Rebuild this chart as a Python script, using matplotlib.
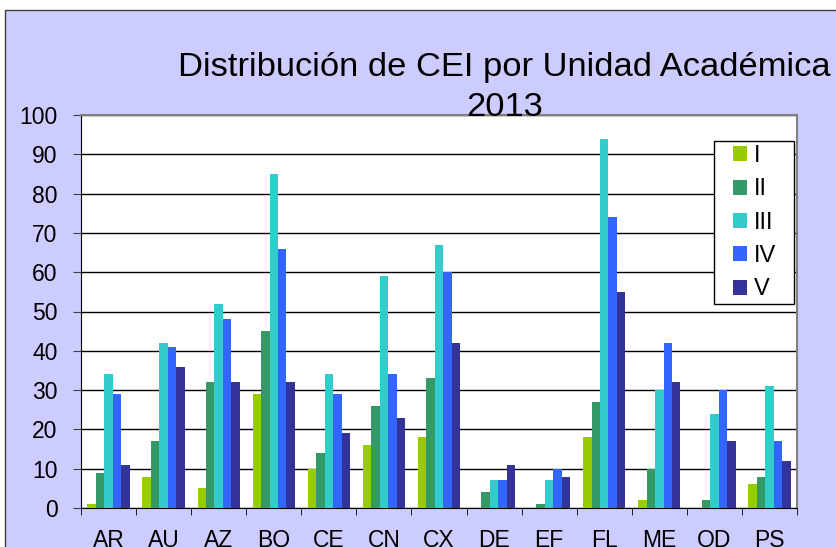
import numpy as np
import matplotlib
matplotlib.use("Agg")
import matplotlib.pyplot as plt
from matplotlib.patches import Rectangle

plt.rcParams["font.family"] = ["Liberation Sans", "DejaVu Sans"]

units = ["AR", "AU", "AZ", "BQ", "CE", "CN", "CX", "DE", "EF", "FL", "ME", "OD", "PS"]
series_names = ["I", "II", "III", "IV", "V"]
vals_I   = [1, 8, 5, 29, 10, 16, 18, 0, 0, 18, 2, 0, 6]
vals_II  = [9, 17, 32, 45, 14, 26, 33, 4, 1, 27, 10, 2, 8]
vals_III = [34, 42, 52, 85, 34, 59, 67, 7, 7, 94, 30, 24, 31]
vals_IV  = [29, 41, 48, 66, 29, 34, 60, 7, 10, 74, 42, 30, 17]
vals_V   = [11, 36, 32, 32, 19, 23, 42, 11, 8, 55, 32, 17, 12]
colors = ["#99CC00", "#339966", "#33CCCC", "#3366FF", "#333399"]

W, H = 836, 547
fig = plt.figure(figsize=(W / 100, H / 100), dpi=100, facecolor="white")

# lavender chart area with thin border
fig.patches.append(Rectangle((5 / W, -0.1), 1.2, 1 - 10 / H + 0.1,
                             transform=fig.transFigure, facecolor="#CCCCFF",
                             edgecolor="#404040", lw=1, zorder=-5))

ax = fig.add_axes([81 / W, 1 - 508 / H, (797 - 81) / W, (508 - 115) / H])
ax.set_facecolor("white")

x = np.arange(len(units))
w = 1 / 6.5
all_vals = [vals_I, vals_II, vals_III, vals_IV, vals_V]
for i, (name, v, c) in enumerate(zip(series_names, all_vals, colors)):
    ax.bar(x + (i - 2) * w, v, w, color=c, label=name, zorder=3)

ax.set_xlim(-0.5, len(units) - 0.5)
ax.set_ylim(0, 100)
ax.set_yticks(range(0, 101, 10))
ax.yaxis.grid(True, color="black", lw=1)
ax.set_axisbelow(True)

ax.set_xticks(x)
ax.set_xticklabels(units)
ax.set_xticks(np.arange(-0.5, len(units)), minor=True)
ax.tick_params(axis="x", which="major", length=0, pad=15, labelsize=16.5)
ax.tick_params(axis="x", which="minor", length=5, color="black")
ax.tick_params(axis="y", length=6, pad=11, labelsize=16.5, color="#404040")

ax.spines["left"].set_color("black")
ax.spines["bottom"].set_color("black")
ax.spines["top"].set_color("#808080")
ax.spines["right"].set_color("#808080")
ax.spines["top"].set_linewidth(1.5)
ax.spines["right"].set_linewidth(1.5)

fig.text(504 / W, 1 - 76 / H, "Distribución de CEI por Unidad Académica",
         ha="center", va="baseline", fontsize=24.8)
fig.text(505 / W, 1 - 116 / H, "2013", ha="center", va="baseline", fontsize=24.8)

# legend box drawn separately so its padding can match the reference
fig.patches.append(Rectangle((714 / W, 1 - 304 / H), 80 / W, 163 / H,
                             transform=fig.transFigure, facecolor="white",
                             edgecolor="black", lw=1, zorder=5))
handles, labels = ax.get_legend_handles_labels()
leg = fig.legend(handles, labels, loc="upper left",
                 bbox_to_anchor=(733 / W, 1 - 145 / H), borderaxespad=0,
                 fontsize=17, frameon=False, borderpad=0,
                 handlelength=0.6, handleheight=0.6, handletextpad=0.28,
                 labelspacing=0.48)
leg.set_zorder(6)

fig.savefig("out.png", dpi=100, facecolor=fig.get_facecolor())
